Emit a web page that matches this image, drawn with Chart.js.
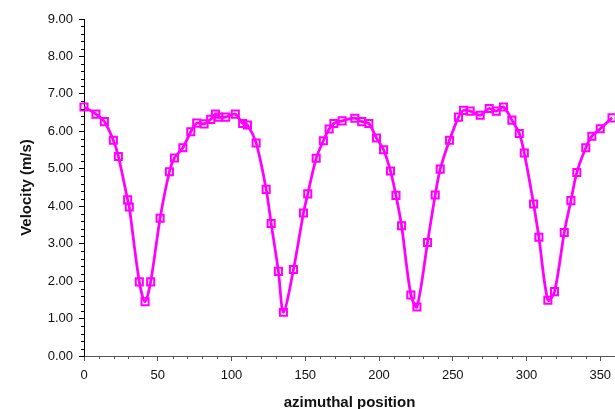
<!DOCTYPE html>
<html>
<head>
<meta charset="utf-8">
<script src="https://cdn.jsdelivr.net/npm/chart.js@4"></script>
<style>
  html,body{margin:0;padding:0;background:#fff;}
  #wrap{width:615px;height:409px;}
</style>
</head>
<body>
<div id="wrap"><canvas id="velChart" width="615" height="409"></canvas></div>
<script>
// azimuthal position (deg) and measured velocity (m/s)
const positions=[0,8.1,13.8,19.9,23.3,29.6,30.7,37.5,41.4,45.2,51.6,57.9,61.3,67.0,72.4,76.4,81.4,85.9,89.1,91.4,96.1,102.6,107.6,110.8,116.7,
    123.5,126.9,131.8,135.2,142.0,148.8,151.7,157.4,162.3,166.2,169.4,175.0,183.6,188.3,193.1,198.3,203.1,207.8,211.5,215.3,221.6,225.7,
    232.9,238.1,241.5,247.8,253.9,257.3,261.8,268.6,274.7,279.5,284.4,290.1,295.1,298.5,304.8,308.4,314.5,319.0,325.6,330.1,334.1,340.2,344.3,350.0,358.0];
const velocity=[6.65,6.46,6.26,5.76,5.33,4.17,3.98,1.98,1.45,1.98,3.68,4.92,5.29,5.56,5.99,6.22,6.20,6.32,6.46,6.38,6.38,6.46,6.21,6.17,5.69,
    4.45,3.54,2.26,1.17,2.31,3.82,4.33,5.28,5.75,6.06,6.21,6.28,6.35,6.26,6.21,5.82,5.51,4.94,4.29,3.48,1.63,1.31,
    3.03,4.30,4.99,5.76,6.38,6.56,6.54,6.43,6.61,6.54,6.65,6.30,5.94,5.42,4.06,3.17,1.49,1.72,3.30,4.15,4.90,5.56,5.87,6.07,6.36];

const xTitle="azimuthal position";
const yTitle="Velocity (m/s)";

// minor tick marks, drawn through the chart's own scales
const minorTicks={
    id:"minorTicks",
    afterDraw(c){
        const ctx=c.ctx, x=c.scales.x, y=c.scales.y;
        ctx.save();
        ctx.lineWidth=1;
        ctx.strokeStyle="#000";
        for(let v=0.2;v<9;v+=0.2){
            if(Math.abs(v-Math.round(v))<0.01) continue;
            let py=Math.round(y.getPixelForValue(v))+0.5;
            ctx.beginPath();ctx.moveTo(x.left-3,py);ctx.lineTo(x.left,py);ctx.stroke();
        }
        ctx.strokeStyle="#555";
        for(let v=10;v<=360;v+=10){
            if(v%50===0) continue;
            let px=Math.round(x.getPixelForValue(v))+0.5;
            ctx.beginPath();ctx.moveTo(px,y.bottom);ctx.lineTo(px,y.bottom+3);ctx.stroke();
        }
        ctx.restore();
    }
};

new Chart(document.getElementById("velChart"),{
    type:"line",
    data:{datasets:[{
        data:positions.map((p,i)=>({x:p,y:velocity[i]})),
        borderColor:"#ff00ff",
        borderWidth:2.75,
        tension:0.3,
        pointStyle:"rect",
        pointRadius:5,
        pointBorderWidth:2,
        pointBorderColor:"#ff00ff",
        pointBackgroundColor:"rgba(0,0,0,0)",
        clip:false
    }]},
    options:{
        responsive:false,
        animation:false,
        layout:{autoPadding:false,padding:{left:18,top:19,right:0,bottom:0}},
        plugins:{legend:{display:false},tooltip:{enabled:false}},
        scales:{
            x:{
                type:"linear",min:0,max:360,
                border:{color:"#555",width:1},
                grid:{drawOnChartArea:false,drawTicks:true,tickLength:5,color:"#555"},
                ticks:{stepSize:50,includeBounds:false,color:"#111",padding:7,
                    font:{family:"Liberation Sans",size:13},maxRotation:0},
                title:{display:true,text:xTitle,color:"#111",
                    font:{family:"Liberation Sans",size:15,weight:"bold",lineHeight:0.8},padding:{top:4,bottom:0}},
                afterFit:s=>{s.height=53;s.paddingRight=0;}
            },
            y:{
                min:0,max:9,
                border:{color:"#000",width:1},
                grid:{drawOnChartArea:false,drawTicks:true,tickLength:5,color:"#000"},
                ticks:{stepSize:1,color:"#111",padding:6,
                    font:{family:"Liberation Sans",size:13},
                    callback:v=>v.toFixed(2)},
                title:{display:true,text:yTitle,color:"#111",
                    font:{family:"Liberation Sans",size:15,weight:"bold"},padding:0},
                afterFit:s=>{s.width=66;}
            }
        }
    },
    plugins:[minorTicks]
});
</script>
</body>
</html>
